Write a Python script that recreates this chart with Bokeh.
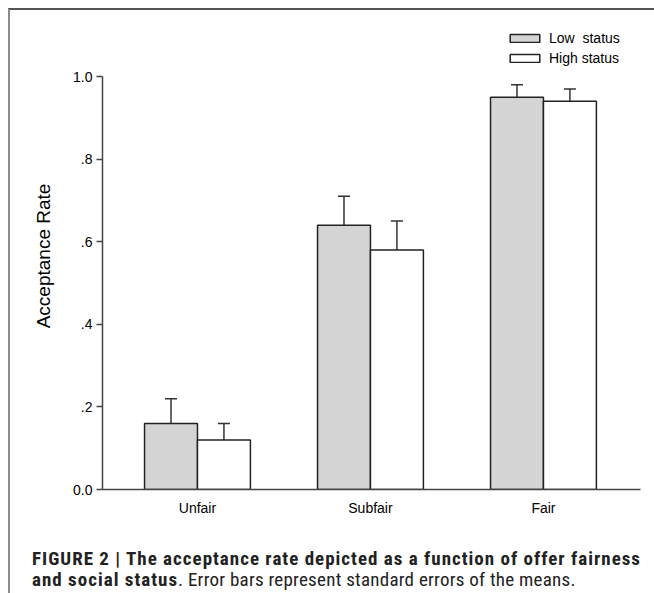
from bokeh.plotting import figure
from bokeh.models import (ColumnDataSource, FixedTicker, Whisker, TeeHead, Legend, LegendItem, Div)
from bokeh.layouts import column
from bokeh.embed import file_html
from bokeh.resources import INLINE

categories = ["Unfair", "Subfair", "Fair"]
low_status = [0.16, 0.64, 0.95]
low_err = [0.06, 0.07, 0.03]
high_status = [0.12, 0.58, 0.94]
high_err = [0.04, 0.07, 0.03]
y_ticks = [0.0, 0.2, 0.4, 0.6, 0.8, 1.0]
y_tick_labels = ["0.0", ".2", ".4", ".6", ".8", "1.0"]

BW = 0.306
idx = list(range(len(categories)))
low_src = ColumnDataSource(dict(
    x=[i - BW / 2 for i in idx], top=low_status,
    upper=[v + e for v, e in zip(low_status, low_err)]))
high_src = ColumnDataSource(dict(
    x=[i + BW / 2 for i in idx], top=high_status,
    upper=[v + e for v, e in zip(high_status, high_err)]))

FONT = "Liberation Sans"
p = figure(width=636, height=513, output_backend="svg", toolbar_location=None,
           x_range=(-0.549, 2.561), y_range=(0, 1.1308),
           min_border_left=92, min_border_right=6, min_border_top=12, min_border_bottom=34)
p.outline_line_color = None
p.xgrid.visible = False
p.ygrid.visible = False

r_low = p.vbar(x="x", top="top", width=BW, bottom=0, source=low_src,
               fill_color="#d4d4d4", line_color="#222222", line_width=1.5)
r_high = p.vbar(x="x", top="top", width=BW, bottom=0, source=high_src,
                fill_color="white", line_color="#222222", line_width=1.5)

for src in (low_src, high_src):
    w = Whisker(base="x", lower="top", upper="upper", source=src, dimension="height",
                line_color="#333333", line_width=1.5,
                lower_head=None,
                upper_head=TeeHead(size=12, line_color="#333333", line_width=1.5))
    p.add_layout(w)

# y axis
p.yaxis.ticker = FixedTicker(ticks=y_ticks)
p.yaxis.bounds = (0, 1.0)
p.yaxis.major_label_overrides = {t: l for t, l in zip(y_ticks, y_tick_labels)}
p.yaxis.minor_tick_line_color = None
p.yaxis.major_tick_out = 6
p.yaxis.major_tick_in = 0
p.yaxis.axis_line_color = "#444444"
p.yaxis.axis_line_width = 1.5
p.yaxis.major_tick_line_color = "#444444"
p.yaxis.major_tick_line_width = 1.5
p.yaxis.major_label_text_font = FONT
p.yaxis.major_label_text_font_size = "14px"
p.yaxis.major_label_text_color = "black"
p.yaxis.major_label_standoff = 4
p.yaxis.axis_label = "Acceptance Rate"
p.yaxis.axis_label_text_font = FONT
p.yaxis.axis_label_text_font_size = "19px"
p.yaxis.axis_label_text_font_style = "normal"
p.yaxis.axis_label_text_color = "black"
p.yaxis.axis_label_standoff = 16

# x axis
p.xaxis.ticker = FixedTicker(ticks=idx)
p.xaxis.major_label_overrides = {i: c for i, c in zip(idx, categories)}
p.xaxis.minor_tick_line_color = None
p.xaxis.major_tick_line_color = None
p.xaxis.axis_line_color = "#444444"
p.xaxis.axis_line_width = 1.5
p.xaxis.major_label_text_font = FONT
p.xaxis.major_label_text_font_size = "14px"
p.xaxis.major_label_text_color = "black"
p.xaxis.major_label_standoff = 4

legend = Legend(items=[LegendItem(label="Low  status", renderers=[r_low]),
                       LegendItem(label="High status", renderers=[r_high])],
                location=(404, 421), orientation="vertical",
                glyph_width=37, glyph_height=10, label_height=20, label_standoff=6,
                padding=0, margin=0, spacing=0,
                border_line_color=None, background_fill_alpha=0,
                label_text_font=FONT, label_text_font_size="14px",
                label_text_color="black")
p.add_layout(legend, "center")

caption = Div(
    text=('<b style="letter-spacing:1.0px">FIGURE 2 | The acceptance rate depicted as a function of offer fairness<br>'
          'and social status</b><span style="letter-spacing:0.25px">. Error bars represent standard errors of the means.</span>'),
    width=636, height=66,
    styles={"font-family": "'Liberation Sans Narrow', 'Arial Narrow', 'Roboto Condensed', 'Liberation Sans', sans-serif",
            "font-size": "19px", "line-height": "21px", "color": "#222222",
            "padding-left": "17px", "padding-top": "20px", "box-sizing": "border-box",
            "white-space": "nowrap"})

layout = column(p, caption, spacing=0, margin=(8, 0, 0, 8),
                styles={"border-left": "2px solid #8c8c8c", "border-top": "2px solid #555555"})

open("out.html", "w").write(file_html(layout, INLINE))
